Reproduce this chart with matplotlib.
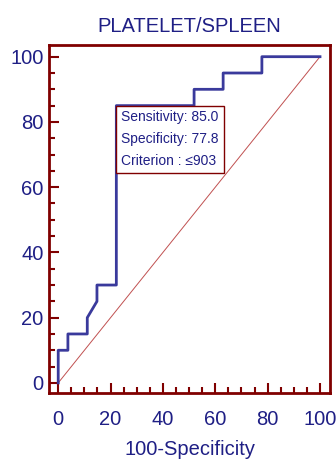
import matplotlib
matplotlib.use("Agg")
import matplotlib.pyplot as plt
from matplotlib.ticker import MultipleLocator

# ROC curve steps (100-Specificity, Sensitivity)
fpr = [0, 0, 3.7, 3.7, 11.1, 11.1, 14.8, 14.8, 22.2, 22.2, 51.9, 51.9, 63.0, 63.0, 77.8, 77.8, 100]
tpr = [0, 10, 10, 15, 15, 20, 25, 30, 30, 85, 85, 90, 90, 95, 95, 100, 100]

title = "PLATELET/SPLEEN"
xlabel = "100-Specificity"
sens, spec, crit = 85.0, 77.8, 903

navy = "#1f1f85"
maroon = "#800000"
plt.rcParams["font.family"] = ["Liberation Sans", "DejaVu Sans"]

fig = plt.figure(figsize=(3.36, 4.61), dpi=100)
ax = fig.add_axes([0.146, 0.1475, 0.836, 0.755])

ax.plot([0, 100], [0, 100], color="#c05050", lw=0.7, zorder=2)
ax.plot(fpr, tpr, color="#3a3a9c", lw=2, zorder=3)

ax.set_xlim(-3.5, 103.8)
ax.set_ylim(-3.1, 103.6)

for s in ax.spines.values():
    s.set_color(maroon)
    s.set_linewidth(2)

ax.xaxis.set_major_locator(MultipleLocator(20))
ax.xaxis.set_minor_locator(MultipleLocator(5))
ax.yaxis.set_major_locator(MultipleLocator(20))
ax.yaxis.set_minor_locator(MultipleLocator(5))
ax.tick_params(which="both", direction="in", color=maroon, width=1.5)
ax.tick_params(which="major", length=7, labelsize=14.5, labelcolor=navy)
ax.tick_params(which="minor", length=4)
ax.tick_params(axis="x", which="major", pad=12)
ax.tick_params(axis="y", which="major", pad=4)

ax.set_title(title, color=navy, fontsize=14.5, pad=9)
ax.set_xlabel(xlabel, color=navy, fontsize=14.5, labelpad=8)

txt = f"Sensitivity: {sens:.1f}\nSpecificity: {spec:.1f}\nCriterion : \u2264{crit}"
ax.annotate(txt, xy=(100 - spec, sens), xytext=(3.5, -3.5), textcoords="offset points",
            ha="left", va="top", fontsize=10, color=navy, linespacing=1.7,
            bbox=dict(boxstyle="square,pad=0.35", fc="white", ec=maroon, lw=1),
            zorder=5)

fig.savefig("out.png", dpi=100)
